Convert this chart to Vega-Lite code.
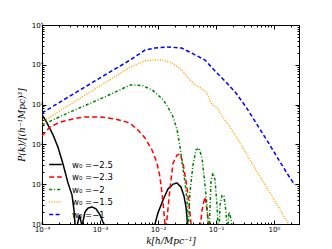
{
"$schema":"https://vega.github.io/schema/vega-lite/v6.json",
"width":257,"height":199,
"autosize":{"type":"none"},
"padding":{"left":42,"top":25,"right":33,"bottom":25},
"config":{"view":{"stroke":"black","strokeWidth":1},"font":"DejaVu Sans"},
"data":{"values":[
{"s":"w₀ =−2.5","k":0.0001,"p":562},{"s":"w₀ =−2.5","k":0.0001219,"p":347},{"s":"w₀ =−2.5","k":0.0001549,"p":174},{"s":"w₀ =−2.5","k":0.0001888,"p":85.1},{"s":"w₀ =−2.5","k":0.00023,"p":32.4},{"s":"w₀ =−2.5","k":0.000281,"p":10.7},{"s":"w₀ =−2.5","k":0.000329,"p":5.37},{"s":"w₀ =−2.5","k":0.000356,"p":2.24},{"s":"w₀ =−2.5","k":0.000371,"p":1},{"s":"w₀ =−2.5","k":0.000385,"p":0.01},{"s":"w₀ =−2.5","k":0.0004,"p":0.01},{"s":"w₀ =−2.5","k":0.000409,"p":1},{"s":"w₀ =−2.5","k":0.000444,"p":1.7},{"s":"w₀ =−2.5","k":0.00048,"p":1},{"s":"w₀ =−2.5","k":0.000488,"p":0.01},{"s":"w₀ =−2.5","k":0.000499,"p":1},{"s":"w₀ =−2.5","k":0.000551,"p":2.0},{"s":"w₀ =−2.5","k":0.000621,"p":2.51},{"s":"w₀ =−2.5","k":0.000728,"p":2.69},{"s":"w₀ =−2.5","k":0.000853,"p":2.4},{"s":"w₀ =−2.5","k":0.001,"p":1.7},{"s":"w₀ =−2.5","k":0.001127,"p":1.12},{"s":"w₀ =−2.5","k":0.001172,"p":1},{"s":"w₀ =−2.5","k":0.0012,"p":0.01},{"s":"w₀ =−2.5","k":0.0086,"p":0.01},{"s":"w₀ =−2.5","k":0.00887,"p":1},{"s":"w₀ =−2.5","k":0.01,"p":1.91},{"s":"w₀ =−2.5","k":0.01219,"p":3.98},{"s":"w₀ =−2.5","k":0.01486,"p":7.59},{"s":"w₀ =−2.5","k":0.01816,"p":10},{"s":"w₀ =−2.5","k":0.0213,"p":10.7},{"s":"w₀ =−2.5","k":0.0249,"p":8.51},{"s":"w₀ =−2.5","k":0.0281,"p":5.01},{"s":"w₀ =−2.5","k":0.0304,"p":2.69},{"s":"w₀ =−2.5","k":0.0323,"p":1},{"s":"w₀ =−2.5","k":0.0335,"p":0.01},
{"s":"w₀ =−2.3","k":0.0001,"p":162},{"s":"w₀ =−2.3","k":0.0001374,"p":275},{"s":"w₀ =−2.3","k":0.000204,"p":363},{"s":"w₀ =−2.3","k":0.000342,"p":437},{"s":"w₀ =−2.3","k":0.00055,"p":490},{"s":"w₀ =−2.3","k":0.001,"p":490},{"s":"w₀ =−2.3","k":0.001815,"p":437},{"s":"w₀ =−2.3","k":0.00292,"p":363},{"s":"w₀ =−2.3","k":0.00356,"p":309},{"s":"w₀ =−2.3","k":0.00452,"p":229},{"s":"w₀ =−2.3","k":0.00597,"p":145},{"s":"w₀ =−2.3","k":0.00789,"p":72.4},{"s":"w₀ =−2.3","k":0.00962,"p":33.9},{"s":"w₀ =−2.3","k":0.01081,"p":15.1},{"s":"w₀ =−2.3","k":0.01172,"p":6.03},{"s":"w₀ =−2.3","k":0.01268,"p":1.91},{"s":"w₀ =−2.3","k":0.0132,"p":1},{"s":"w₀ =−2.3","k":0.0136,"p":0.01},{"s":"w₀ =−2.3","k":0.014,"p":1},{"s":"w₀ =−2.3","k":0.0162,"p":8.5},{"s":"w₀ =−2.3","k":0.0182,"p":33.9},{"s":"w₀ =−2.3","k":0.0213,"p":53.7},{"s":"w₀ =−2.3","k":0.024,"p":57.5},{"s":"w₀ =−2.3","k":0.027,"p":33.9},{"s":"w₀ =−2.3","k":0.0316,"p":8.5},{"s":"w₀ =−2.3","k":0.0356,"p":1.91},{"s":"w₀ =−2.3","k":0.0371,"p":1},{"s":"w₀ =−2.3","k":0.0385,"p":0.01},{"s":"w₀ =−2.3","k":0.0525,"p":0.01},{"s":"w₀ =−2.3","k":0.0541,"p":1},{"s":"w₀ =−2.3","k":0.0574,"p":2.24},{"s":"w₀ =−2.3","k":0.0646,"p":4.79},{"s":"w₀ =−2.3","k":0.07,"p":2.24},{"s":"w₀ =−2.3","k":0.0743,"p":1},{"s":"w₀ =−2.3","k":0.076,"p":0.01},
{"s":"w₀ =−2","k":0.0001,"p":309},{"s":"w₀ =−2","k":0.000302,"p":646},{"s":"w₀ =−2","k":0.001,"p":1380},{"s":"w₀ =−2","k":0.00331,"p":3090},{"s":"w₀ =−2","k":0.00437,"p":3090},{"s":"w₀ =−2","k":0.0055,"p":2951},{"s":"w₀ =−2","k":0.00794,"p":2344},{"s":"w₀ =−2","k":0.01,"p":1738},{"s":"w₀ =−2","k":0.0123,"p":1318},{"s":"w₀ =−2","k":0.0148,"p":871},{"s":"w₀ =−2","k":0.0182,"p":490},{"s":"w₀ =−2","k":0.0214,"p":229},{"s":"w₀ =−2","k":0.024,"p":85.1},{"s":"w₀ =−2","k":0.0269,"p":25},{"s":"w₀ =−2","k":0.0295,"p":10},{"s":"w₀ =−2","k":0.0316,"p":4},{"s":"w₀ =−2","k":0.0327,"p":1},{"s":"w₀ =−2","k":0.0331,"p":0.01},{"s":"w₀ =−2","k":0.0336,"p":1},{"s":"w₀ =−2","k":0.0356,"p":6.31},{"s":"w₀ =−2","k":0.0401,"p":30.2},{"s":"w₀ =−2","k":0.0452,"p":72.4},{"s":"w₀ =−2","k":0.0509,"p":81.3},{"s":"w₀ =−2","k":0.0574,"p":45.7},{"s":"w₀ =−2","k":0.0646,"p":9.55},{"s":"w₀ =−2","k":0.07,"p":3.02},{"s":"w₀ =−2","k":0.073,"p":1},{"s":"w₀ =−2","k":0.075,"p":0.01},{"s":"w₀ =−2","k":0.077,"p":1},{"s":"w₀ =−2","k":0.082,"p":11.5},{"s":"w₀ =−2","k":0.0887,"p":19.1},{"s":"w₀ =−2","k":0.0962,"p":12.9},{"s":"w₀ =−2","k":0.104,"p":3.02},{"s":"w₀ =−2","k":0.108,"p":1},{"s":"w₀ =−2","k":0.111,"p":0.01},{"s":"w₀ =−2","k":0.114,"p":1},{"s":"w₀ =−2","k":0.1175,"p":3.02},{"s":"w₀ =−2","k":0.127,"p":5.37},{"s":"w₀ =−2","k":0.137,"p":5.01},{"s":"w₀ =−2","k":0.149,"p":2.0},{"s":"w₀ =−2","k":0.153,"p":1},{"s":"w₀ =−2","k":0.157,"p":0.01},{"s":"w₀ =−2","k":0.161,"p":1},{"s":"w₀ =−2","k":0.1675,"p":2.0},{"s":"w₀ =−2","k":0.178,"p":1.5},{"s":"w₀ =−2","k":0.186,"p":1},{"s":"w₀ =−2","k":0.19,"p":0.01},
{"s":"w₀ =−1.5","k":0.0001,"p":363},{"s":"w₀ =−1.5","k":0.000302,"p":1000},{"s":"w₀ =−1.5","k":0.001,"p":2951},{"s":"w₀ =−1.5","k":0.00331,"p":8710},{"s":"w₀ =−1.5","k":0.00597,"p":12589},{"s":"w₀ =−1.5","k":0.00891,"p":13183},{"s":"w₀ =−1.5","k":0.01175,"p":13183},{"s":"w₀ =−1.5","k":0.01738,"p":11220},{"s":"w₀ =−1.5","k":0.0257,"p":7413},{"s":"w₀ =−1.5","k":0.0331,"p":4677},{"s":"w₀ =−1.5","k":0.0437,"p":3090},{"s":"w₀ =−1.5","k":0.055,"p":2630},{"s":"w₀ =−1.5","k":0.07,"p":1950},{"s":"w₀ =−1.5","k":0.0851,"p":977},{"s":"w₀ =−1.5","k":0.107,"p":813},{"s":"w₀ =−1.5","k":0.126,"p":513},{"s":"w₀ =−1.5","k":0.162,"p":324},{"s":"w₀ =−1.5","k":0.259,"p":110},{"s":"w₀ =−1.5","k":0.575,"p":15.5},{"s":"w₀ =−1.5","k":1.04,"p":3.72},{"s":"w₀ =−1.5","k":1.738,"p":1.07},{"s":"w₀ =−1.5","k":2.3,"p":0.55},
{"s":"w₀ =−1","k":0.0001,"p":617},{"s":"w₀ =−1","k":0.000316,"p":1698},{"s":"w₀ =−1","k":0.001,"p":4677},{"s":"w₀ =−1","k":0.00331,"p":13183},{"s":"w₀ =−1","k":0.00597,"p":23442},{"s":"w₀ =−1","k":0.00891,"p":26303},{"s":"w₀ =−1","k":0.0148,"p":28184},{"s":"w₀ =−1","k":0.0257,"p":26303},{"s":"w₀ =−1","k":0.0437,"p":17783},{"s":"w₀ =−1","k":0.0646,"p":13183},{"s":"w₀ =−1","k":0.1,"p":6607},{"s":"w₀ =−1","k":0.148,"p":3715},{"s":"w₀ =−1","k":0.221,"p":1950},{"s":"w₀ =−1","k":0.329,"p":871},{"s":"w₀ =−1","k":0.49,"p":347},{"s":"w₀ =−1","k":0.853,"p":95.5},{"s":"w₀ =−1","k":1.268,"p":36.3},{"s":"w₀ =−1","k":1.888,"p":14.4},{"s":"w₀ =−1","k":2.301,"p":9.55}
]},
"layer":[
{"mark":{"type":"line","clip":true,"strokeWidth":1.5},
"encoding":{
"x":{"field":"k","type":"quantitative","scale":{"type":"log","domain":[0.0001,2.7],"nice":false},
"axis":{"orient":"bottom","values":[0.0001,0.0002,0.0003,0.0004,0.0005,0.0006,0.0007,0.0008,0.0009,0.001,0.002,0.003,0.004,0.005,0.006,0.007,0.008,0.009,0.01,0.02,0.03,0.04,0.05,0.06,0.07,0.08,0.09,0.1,0.2,0.3,0.4,0.5,0.6,0.7,0.8,0.9,1,2],
"labelExpr":"datum.value == 0.0001 ? '10⁻⁴' : datum.value == 0.001 ? '10⁻³' : datum.value == 0.01 ? '10⁻²' : datum.value == 0.1 ? '10⁻¹' : datum.value == 1 ? '10⁰' : ''",
"tickSize":{"condition":{"test":"indexof([0.0001,0.001,0.01,0.1,1], datum.value) >= 0","value":-4},"value":-2},
"tickColor":"black","domainColor":"black","labelColor":"black","labelFontSize":7,"labelFont":"DejaVu Sans","labelPadding":5,"grid":false,"labelFlush":false,"labelOverlap":false,
"title":"k[h/Mpc⁻¹]","titleFont":"DejaVu Serif","titleFontStyle":"italic","titleFontWeight":"normal","titleFontSize":9,"titleColor":"black","titlePadding":2}},
"y":{"field":"p","type":"quantitative","scale":{"type":"log","domain":[1,100000],"nice":false},
"axis":{"orient":"left","values":[1,2,3,4,5,6,7,8,9,10,20,30,40,50,60,70,80,90,100,200,300,400,500,600,700,800,900,1000,2000,3000,4000,5000,6000,7000,8000,9000,10000,20000,30000,40000,50000,60000,70000,80000,90000,100000],
"labelExpr":"datum.value == 1 ? '10⁰' : datum.value == 10 ? '10¹' : datum.value == 100 ? '10²' : datum.value == 1000 ? '10³' : datum.value == 10000 ? '10⁴' : datum.value == 100000 ? '10⁵' : ''",
"tickSize":{"condition":{"test":"indexof([1,10,100,1000,10000,100000], datum.value) >= 0","value":-4},"value":-2},
"tickColor":"black","domainColor":"black","labelColor":"black","labelFontSize":7,"labelFont":"DejaVu Sans","labelPadding":3,"grid":false,"labelFlush":false,"labelOverlap":false,
"title":"P(k)/[(h⁻¹Mpc)³]","titleFont":"DejaVu Serif","titleFontStyle":"italic","titleFontWeight":"normal","titleFontSize":9,"titleColor":"black","titlePadding":5}},
"color":{"field":"s","type":"nominal","scale":{"domain":["w₀ =−2.5","w₀ =−2.3","w₀ =−2","w₀ =−1.5","w₀ =−1"],"range":["#000000","#ff0000","#008000","#ffa500","#0000ff"]},
"legend":{"orient":"none","legendX":6,"legendY":132,"title":null,"symbolType":"stroke","symbolSize":160,"symbolStrokeWidth":1.5,"labelFontSize":8.5,"labelFont":"DejaVu Sans","labelColor":"black","rowPadding":0.5,"labelOffset":9,"padding":0}},
"strokeDash":{"field":"s","type":"nominal","scale":{"domain":["w₀ =−2.5","w₀ =−2.3","w₀ =−2","w₀ =−1.5","w₀ =−1"],"range":[[1,0],[5,3],[3,2,1,2],[1,1.5],[4,2.5]]},
"legend":{"orient":"none","legendX":6,"legendY":132,"title":null}},
"order":{"field":"k","type":"quantitative"}
}},
{"mark":{"type":"line","opacity":0,"clip":true},
"encoding":{
"x":{"field":"k","type":"quantitative","axis":{"orient":"top","values":[0.0001,0.0002,0.0003,0.0004,0.0005,0.0006,0.0007,0.0008,0.0009,0.001,0.002,0.003,0.004,0.005,0.006,0.007,0.008,0.009,0.01,0.02,0.03,0.04,0.05,0.06,0.07,0.08,0.09,0.1,0.2,0.3,0.4,0.5,0.6,0.7,0.8,0.9,1,2],"labels":false,"title":null,"grid":false,"tickColor":"black","domainColor":"black",
"tickSize":{"condition":{"test":"indexof([0.0001,0.001,0.01,0.1,1], datum.value) >= 0","value":-4},"value":-2}}},
"y":{"field":"p","type":"quantitative","axis":{"orient":"right","values":[1,2,3,4,5,6,7,8,9,10,20,30,40,50,60,70,80,90,100,200,300,400,500,600,700,800,900,1000,2000,3000,4000,5000,6000,7000,8000,9000,10000,20000,30000,40000,50000,60000,70000,80000,90000,100000],"labels":false,"title":null,"grid":false,"tickColor":"black","domainColor":"black",
"tickSize":{"condition":{"test":"indexof([1,10,100,1000,10000,100000], datum.value) >= 0","value":-4},"value":-2}}},
"detail":{"field":"s","type":"nominal"}
}}
],
"resolve":{"axis":{"x":"independent","y":"independent"}}
}
